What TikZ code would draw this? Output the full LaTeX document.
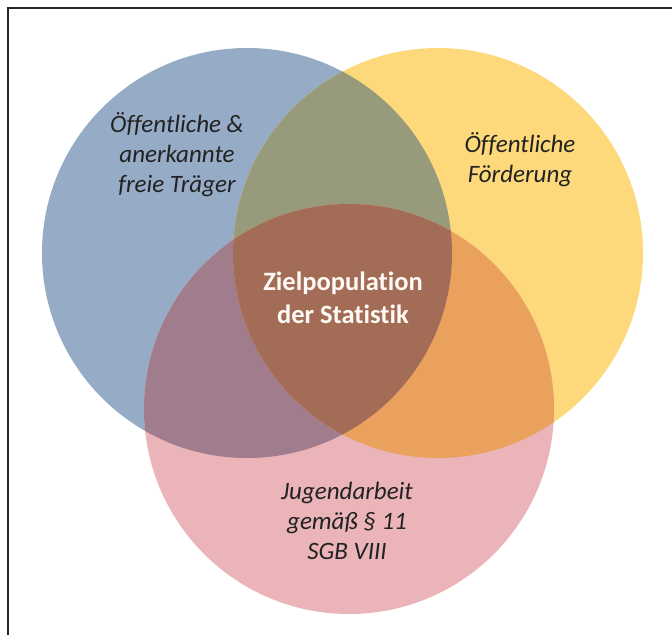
\documentclass[tikz,border=0pt]{standalone}
\usepackage{fontspec}
\setmainfont{Carlito}[Ligatures=NoCommon]
\definecolor{cblue}{HTML}{95ABC6}
\definecolor{cyellow}{HTML}{FDD97B}
\definecolor{cpink}{HTML}{EBB4B8}
\definecolor{cby}{HTML}{979B7C}
\definecolor{cbp}{HTML}{A07C8D}
\definecolor{cyp}{HTML}{EBA15E}
\definecolor{call}{HTML}{A26C56}
\definecolor{ctext}{HTML}{222222}
\tikzset{
  lbl/.style={align=center, font=\fontsize{25}{30}\selectfont\itshape, text=ctext, inner sep=0pt},
  centerlbl/.style={align=center, font=\fontsize{26.5}{33}\selectfont\bfseries, text=white!96!orange, inner sep=0pt},
  frameline/.style={line width=1.6pt, draw=black!85}
}
\begin{document}
\begin{tikzpicture}[x=1pt,y=-1pt]
\useasboundingbox (0,0) rectangle (672,635);
\fill[white] (0,0) rectangle (672,635);
\def\R{205}
\coordinate (cb) at (247,253);
\coordinate (cy) at (438,253);
\coordinate (cp) at (349,409);
\coordinate (ftl) at (8,8);
\coordinate (ftr) at (672,8);
\coordinate (fbl) at (8,635);
\draw[frameline] (fbl) -- (ftl) -- (ftr);
\fill[cblue] (cb) circle (\R);
\fill[cyellow] (cy) circle (\R);
\fill[cpink] (cp) circle (\R);
\begin{scope}
  \clip (cb) circle (\R);
  \fill[cby] (cy) circle (\R);
  \fill[cbp] (cp) circle (\R);
\end{scope}
\begin{scope}
  \clip (cy) circle (\R);
  \fill[cyp] (cp) circle (\R);
\end{scope}
\begin{scope}
  \clip (cb) circle (\R);
  \clip (cy) circle (\R);
  \fill[call] (cp) circle (\R);
\end{scope}
\node[lbl] (blue) at (177,155) {Öffentliche \&\\anerkannte\\freie Träger};
\node[lbl] (yellow) at (520,160) {Öffentliche\\Förderung};
\node[lbl] (pink) at (347,521) {Jugendarbeit\\gemäß § 11\\SGB VIII};
\node[centerlbl] (center) at (343,298) {Zielpopulation\\der Statistik};
\end{tikzpicture}
\end{document}
